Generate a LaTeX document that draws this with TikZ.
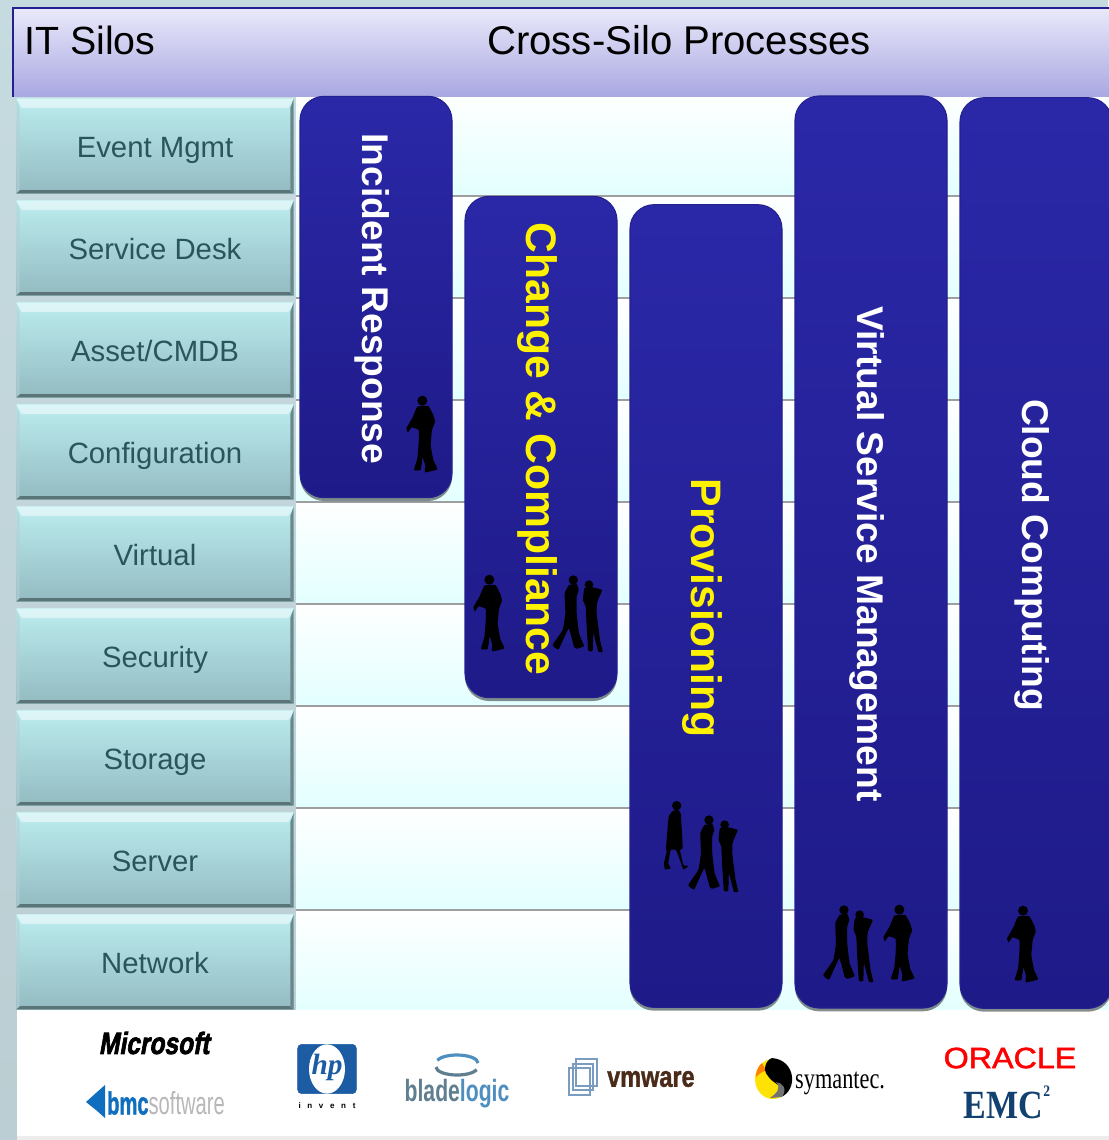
\documentclass[tikz,border=0pt]{standalone}
\usepackage{fontspec}
\setmainfont{Liberation Sans}
\newfontfamily\serifface{Liberation Serif}
\newfontfamily\heavyface[FakeBold=2.5,FakeSlant=0.22]{Liberation Sans Bold}
\newfontfamily\thickface[FakeBold=1.5]{Liberation Sans Bold}
\newfontfamily\mediumface[FakeBold=1.5]{Liberation Sans}
\usetikzlibrary{positioning, shapes.geometric, shadows}
\definecolor{sidebg}{HTML}{C6DBE0}
\definecolor{silotop}{HTML}{BBECEE}
\definecolor{silobot}{HTML}{93BBC1}
\definecolor{silotext}{HTML}{2A555C}
\definecolor{headtop}{HTML}{E9E9FA}
\definecolor{headbot}{HTML}{A9A7E1}
\definecolor{procline}{HTML}{23208F}
\definecolor{proctop}{HTML}{2B28A8}
\definecolor{procbot}{HTML}{1E1A88}
\definecolor{hpblue}{HTML}{1B5CA3}
\definecolor{bmcblue}{HTML}{0F6FBE}
\definecolor{bladegray}{HTML}{5F7F90}
\definecolor{bladeblue}{HTML}{4F8FC0}
\definecolor{vmframe}{HTML}{7A9CC0}
\definecolor{vmbrown}{HTML}{4A2A18}
\definecolor{emcblue}{HTML}{12406F}
\newcommand{\fsize}[1]{\fontsize{#1}{#1}\selectfont}
\tikzset{
    silo/.style={
        minimum width = 208pt,
        minimum height = 71pt,
        inner sep = 0pt,
        top color = silotop, bottom color = silobot,
        text = silotext,
        text height = 16.5pt, text depth = 0pt,
        font = \fsize{22pt},
        path picture={
            \fill[white, opacity=0.5] (path picture bounding box.north west) -- (path picture bounding box.north east)
                -- ([shift={(-4pt,-7pt)}]path picture bounding box.north east) -- ([shift={(4pt,-7pt)}]path picture bounding box.north west) -- cycle;
            \fill[black!38!silobot] (path picture bounding box.south west) -- (path picture bounding box.south east)
                -- ([shift={(-3pt,2.5pt)}]path picture bounding box.south east) -- ([shift={(3pt,2.5pt)}]path picture bounding box.south west) -- cycle;
            \fill[black!28!silobot] (path picture bounding box.south east) -- (path picture bounding box.north east)
                -- ([shift={(-2.5pt,-7pt)}]path picture bounding box.north east) -- ([shift={(-2.5pt,2.5pt)}]path picture bounding box.south east) -- cycle;
            \fill[white!30!silobot, opacity=0.6] (path picture bounding box.south west) -- (path picture bounding box.north west)
                -- ([shift={(2.5pt,-7pt)}]path picture bounding box.north west) -- ([shift={(2.5pt,2.5pt)}]path picture bounding box.south west) -- cycle;
        }
    },
    rowband/.style={
        minimum width = 609pt,
        minimum height = 76.7pt,
        inner sep = 0pt, anchor = north west,
        top color = white, bottom color = cyan!11!white
    },
    rowline/.style={draw = black!38, line width = 1.3pt},
    procbox/.style={
        rotate = -90,
        rounded corners = 18pt,
        draw = procline, line width = 0.8pt,
        top color = proctop, bottom color = procbot,
        minimum height = 114pt,
        inner sep = 0pt,
        text height = 25.6pt, text depth = 6pt,
        font = \bfseries\fsize{27.9pt},
        text = white,
        execute at begin node = {\hspace{3pt}},
        general shadow = {shadow xshift = 0pt, shadow yshift = -2.5pt, fill = black, opacity = 0.45}
    },
    bigproc/.style={
        text = yellow, text height = 28pt,
        font = \bfseries\fsize{32pt}
    },
    figure/.style={fill = black, scale = 1/3},
    title/.style={font = \fsize{29.5pt}, text = black, inner sep = 0pt},
    logo/.style={inner sep = 0pt},
    walker/.pic={
        \fill[figure] (67,62) circle (15);
        \fill[figure] plot[smooth cycle, tension=0.2] coordinates {(85,78) (100,105) (105,125) (96,150) (92,195) (100,240) (112,268) (75,277) (76,258) (68,232) (62,270) (42,270) (52,235) (56,190) (56,150) (35,142) (24,157) (19,145) (38,112) (52,80)};
    },
    phoner/.pic={
        \fill[figure] (520,600) circle (14);
        \fill[figure] plot[smooth cycle, tension=0.2] coordinates {(530,612) (536,630) (530,650) (530,700) (537,760) (552,798) (530,806) (522,800) (506,745) (476,808) (458,795) (488,750) (496,700) (494,640) (507,615)};
    },
    handsup/.pic={
        \fill[figure] (567,614) circle (13);
        \fill[figure] plot[smooth cycle, tension=0.2] coordinates {(578,622) (606,630) (596,655) (591,670) (590,700) (600,780) (608,815) (595,815) (580,760) (578,812) (565,812) (560,740) (557,680) (549,660) (553,625)};
    },
    skirted/.pic={
        \fill[figure] (110,77) circle (14);
        \fill[figure] plot[smooth cycle, tension=0.2] coordinates {(114,90) (122,100) (126,160) (128,205) (120,210) (130,255) (145,258) (130,268) (118,235) (108,210) (92,210) (85,250) (92,265) (75,268) (72,250) (80,215) (78,205) (86,110) (100,92)};
    }
}

\begin{document}
\begin{tikzpicture}[x=0.75pt, y=-0.75pt, node distance=5.1pt]
    \useasboundingbox (0,0) rectangle (1108,1140);

    % page behind everything
    \node[minimum width=831pt, minimum height=855pt, inner sep=0pt, top color=sidebg, bottom color=black!6!sidebg] (page) at (554,570) {};

    % bands behind the processes
    \foreach \y [count=\i] in {93,195,297,399,501,603,705,807,909}
        \node[rowband] (row\i) at (296,\y) {};
    \foreach \i in {1,...,8}
        \draw[rowline] (row\i.south west) -- (row\i.south east);

    % header bar
    \node[minimum width=822pt, minimum height=66.5pt, inner sep=0pt, anchor=north west,
        top color=headtop, bottom color=headbot] (header) at (13,8) {};
    \draw[procline, line width=1.2pt] (header.south west) -- (header.north west) -- (header.north east);
    \node[title, anchor=west] (silostitle) at (24,40) {IT Silos};
    \node[title, anchor=west, font=\fsize{30.1pt}] (crosstitle) at (487,40) {Cross-Silo Processes};

    % logo panel
    \node[fill=black!7, minimum width=819pt, minimum height=97pt, inner sep=0pt, anchor=north west] (strip) at (17,1010) {};
    \node[fill=white, minimum width=819pt, minimum height=94pt, inner sep=0pt, anchor=north west] (panel) at (17,1010) {};

    % silos
    \node[silo] (event) at (155,146) {Event Mgmt};
    \node[silo, below = of event] (desk) {Service Desk};
    \node[silo, below = of desk] (asset) {Asset/CMDB};
    \node[silo, below = of asset] (config) {Configuration};
    \node[silo, below = of config] (virtual) {Virtual};
    \node[silo, below = of virtual] (security) {Security};
    \node[silo, below = of security] (storage) {Storage};
    \node[silo, below = of storage] (server) {Server};
    \node[silo, below = of server] (network) {Network};

    % processes
    \node[procbox, minimum width=301pt] (incident) at (376,297) {Incident Response};
    \node[procbox, bigproc, minimum width=376pt] (change) at (541,447) {Change \& Compliance};
    \node[procbox, bigproc, minimum width=602pt] (provision) at (706,606) {Provisioning};
    \node[procbox, minimum width=684pt] (vsm) at (871,552) {Virtual Service Management};
    \node[procbox, minimum width=683pt] (cloud) at (1036,553) {Cloud Computing};

    % people
    \pic at (400,380) {walker};
    \pic at (467,559) {walker};
    \pic at (400,380) {phoner};
    \pic at (400,380) {handsup};
    \pic at (640,780) {skirted};
    \pic at (535.6,620) {phoner};
    \pic at (535.6,620) {handsup};
    \pic at (670.6,710) {phoner};
    \pic at (670.6,710) {handsup};
    \pic at (877,889) {walker};
    \pic at (1000.7,890) {walker};

    % logos
    \node[logo, font=\heavyface\fsize{23pt}, xscale=0.8] (microsoft) at (154,1043) {Microsoft};
    \fill[bmcblue] (105,1085) -- (105,1118) -- (96,1110) -- (86,1102) -- (96,1093) -- cycle;
    \node[logo, anchor=west, xscale=0.63, font=\fsize{24pt}] (bmc) at (107,1103) {\textcolor{bmcblue}{\thickface bmc}\textcolor{black!28}{software}};

    \node[draw=hpblue, fill=hpblue, rounded corners=3pt, minimum width=44pt, minimum height=37pt, inner sep=0pt] (hpbox) at (327,1069) {};
    \node[ellipse, fill=white, minimum width=27pt, minimum height=37pt, inner sep=0pt] (hplens) at (327,1069) {};
    \node[logo, text=hpblue, font=\serifface\bfseries\itshape\fsize{22pt}] (hp) at (327,1067) {hp};
    \node[logo, font=\bfseries\fsize{6pt}, below = 6pt of hpbox] (invent) {i\hspace{5pt}n\hspace{5pt}v\hspace{5pt}e\hspace{5pt}n\hspace{5pt}t};

    \draw[bladegray, line width=2.4pt] (436,1067) arc[start angle=180, end angle=20, x radius=21, y radius=8];
    \draw[bladeblue, line width=2.4pt] (478,1063) arc[start angle=0, end angle=-160, x radius=21, y radius=8];
    \node[logo, xscale=0.69, font=\bfseries\fsize{23pt}] (blade) at (457,1094) {\textcolor{bladegray}{blade}\textcolor{bladeblue}{logic}};

    \draw[vmframe, line width=1pt] (569,1068) rectangle (590,1095);
    \draw[vmframe, line width=1pt] (576,1059) rectangle (597,1086);
    \draw[vmframe, line width=1pt] (573,1064) rectangle (593,1090);
    \node[logo, anchor=west, text=vmbrown, xscale=0.8, font=\thickface\fsize{22pt}] (vmware) at (607,1079) {vmware};

    \fill[yellow!85!orange] (773,1079) ellipse[x radius=18, y radius=20];
    \fill[orange] (762,1063) .. controls (757,1067) and (756,1073) .. (756,1077) .. controls (760,1072) and (764,1072) .. (766,1070) -- cycle;
    \fill[black] (772,1058) .. controls (796,1060) and (798,1090) .. (781,1097) .. controls (788,1086) and (772,1084) .. (768,1076) .. controls (762,1070) and (766,1060) .. (772,1058);
    \fill[black!55] (782,1097) .. controls (788,1088) and (782,1083) .. (776,1082) .. controls (782,1088) and (776,1094) .. (770,1098) -- cycle;
    \node[logo, anchor=west, xscale=0.76, font=\serifface\fsize{22pt}] (symantec) at (795,1083) {symantec.};

    \node[logo, text=red, xscale=1.1, font=\mediumface\fsize{22pt}] (oracle) at (1010,1058) {ORACLE};
    \node[logo, text=emcblue, xscale=0.85, font=\serifface\bfseries\fsize{30pt}] (emc) at (1007,1102) {EMC\raisebox{1.2ex}{\fsize{12pt}2}};
\end{tikzpicture}
\end{document}
